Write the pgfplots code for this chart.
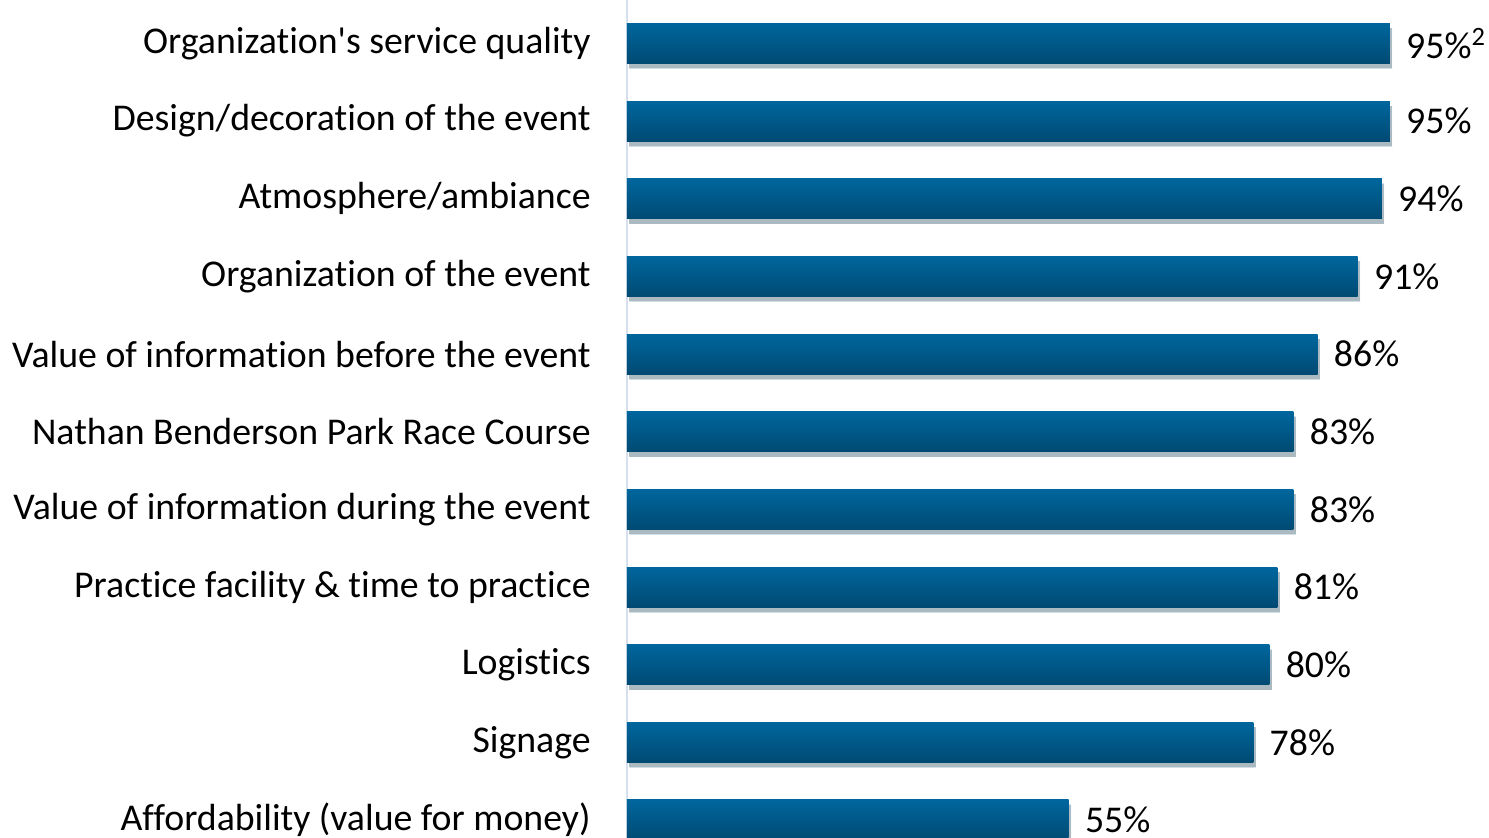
\documentclass[border=0pt]{standalone}
\usepackage{fontspec}
\setmainfont{Carlito}[Ligatures=NoCommon]
\usepackage{pgfplots}
\pgfplotsset{compat=1.18}
\usetikzlibrary{shadows}
\definecolor{bartop}{HTML}{00669D}
\definecolor{barbot}{HTML}{004A73}
\definecolor{axline}{HTML}{D6DFEE}
\pgfplotsset{barstyle/.style={draw=none, top color=bartop, bottom color=barbot, bar shift=0pt,
  drop shadow={shadow xshift=1.2pt, shadow yshift=-2.5pt, fill=black, opacity=0.18}}}
\begin{document}
\begin{tikzpicture}
\begin{axis}[
  scale only axis, width=401.5pt, height=419pt,
  xmin=0, xmax=100, ymin=-0.232, ymax=10.56,
  axis x line=none, axis y line*=left,
  y axis line style={axline, line width=1.2pt},
  ytick={0,...,10},
  yticklabels={Affordability (value for money),Signage,Logistics,Practice facility \& time to practice,Value of information during the event,Nathan Benderson Park Race Course,Value of information before the event,Organization of the event,Atmosphere/ambiance,Design/decoration of the event,Organization\textquotesingle s service quality},
  major tick length=0pt,
  yticklabel style={anchor=east, inner sep=0pt, xshift=-18pt, font=\fontsize{18.9}{22}\selectfont},
  xbar, bar width=20pt,
  point meta=explicit symbolic,
  nodes near coords,
  nodes near coords style={anchor=west, inner sep=0pt, xshift=8pt, font=\fontsize{18.9}{22}\selectfont, text=black},
]
\addplot[barstyle] coordinates {(95,10) [95\%\textsuperscript{2}]};
\addplot[barstyle] coordinates {(95,9) [95\%]};
\addplot[barstyle] coordinates {(94,8) [94\%]};
\addplot[barstyle] coordinates {(91,7) [91\%]};
\addplot[barstyle] coordinates {(86,6) [86\%]};
\addplot[barstyle] coordinates {(83,5) [83\%]};
\addplot[barstyle] coordinates {(83,4) [83\%]};
\addplot[barstyle] coordinates {(81,3) [81\%]};
\addplot[barstyle] coordinates {(80,2) [80\%]};
\addplot[barstyle] coordinates {(78,1) [78\%]};
\addplot[barstyle] coordinates {(55,0) [55\%]};
\coordinate (O) at (rel axis cs:0,0);
\coordinate (T) at (rel axis cs:0,1);
\end{axis}
\pgfresetboundingbox
\path[use as bounding box] ([xshift=-313.5pt]O) rectangle ([xshift=431pt]T);
\end{tikzpicture}
\end{document}
